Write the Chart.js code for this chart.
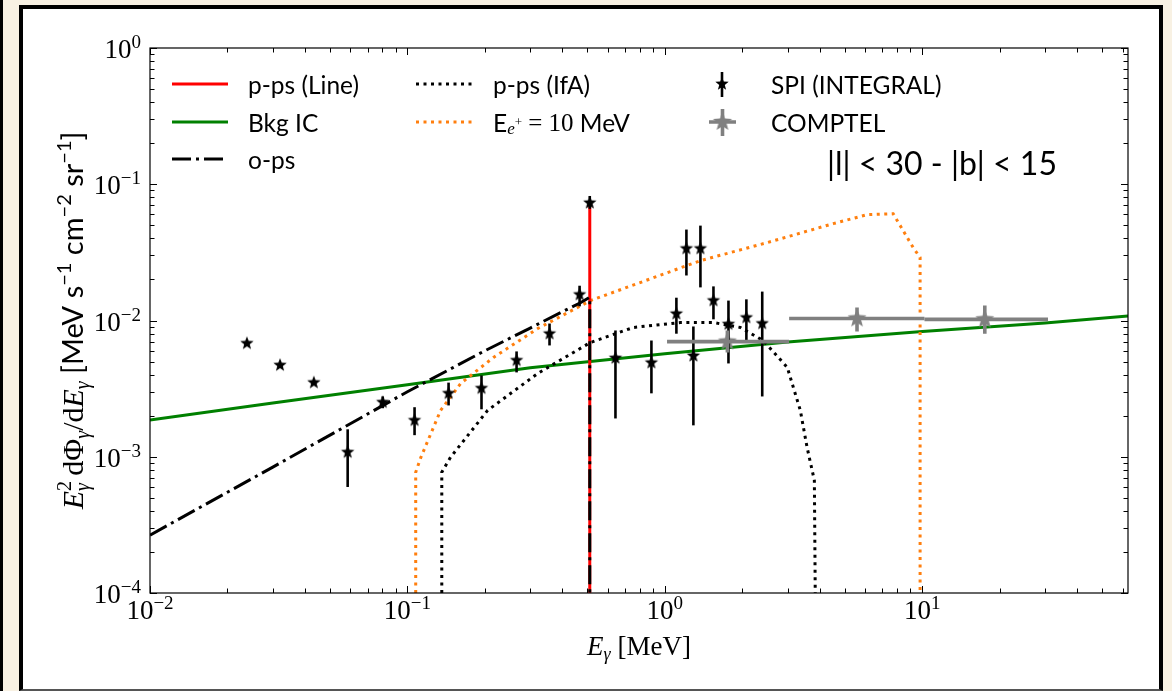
<!DOCTYPE html>
<html>
<head>
<meta charset="utf-8">
<script src="https://cdn.jsdelivr.net/npm/chart.js@4.4.0/dist/chart.umd.min.js"></script>
<style>
  html, body { margin: 0; padding: 0; width: 1172px; height: 691px; overflow: hidden; background: #f8f1e3; position: relative; }
  #strip { position: absolute; left: 0; top: 0; width: 3px; height: 691px; background: #000; }
  #frame { position: absolute; left: 19px; top: 5px; width: 1136px; height: 680px; background: #fff;
           border: 4px solid #000; border-bottom: 2px solid #555; }
  #chart { position: absolute; left: 0; top: 0; }
</style>
</head>
<body>
<div id="strip"></div>
<div id="frame"></div>
<canvas id="chart" width="1172" height="691"></canvas>
<script>
// --- data (E in MeV, flux in MeV s^-1 cm^-2 sr^-1) ---
const xTicks = [0.01, 0.1, 1, 10];
const yTicks = [1e-4, 1e-3, 1e-2, 1e-1, 1];

const bkgE = [0.01, 0.03, 0.1, 0.3, 1, 3, 10, 30, 63];
const bkgF = [1.86e-3, 2.48e-3, 3.38e-3, 4.5e-3, 5.7e-3, 6.95e-3, 8.3e-3, 9.6e-3, 1.08e-2];

const opsE = [0.01, 0.03, 0.1, 0.2, 0.3, 0.4, 0.47, 0.511, 0.511];
const opsF = [2.66e-4, 8.4e-4, 3.0e-3, 6.0e-3, 8.8e-3, 1.16e-2, 1.35e-2, 1.48e-2, 1e-4];

const lineE = [0.511, 0.511];
const lineF = [1e-4, 7.2e-2];

const ifaE = [0.136, 0.136, 0.147, 0.205, 0.321, 0.514, 0.755, 1.15, 1.545, 1.965, 2.41, 2.99, 3.36, 3.57, 3.81, 3.84];
const ifaF = [1e-4, 7.7e-4, 9.9e-4, 2.19e-3, 4.09e-3, 6.9e-3, 8.89e-3, 9.66e-3, 9.66e-3, 8.89e-3, 7.13e-3, 4.53e-3, 2.19e-3, 1.17e-3, 6.7e-4, 1e-4];

const e10E = [0.1077, 0.1077, 0.1128, 0.1346, 0.161, 0.216, 0.321, 0.514, 1.375, 2.5, 4.51, 6.11, 7.71, 9.22, 9.81, 9.81];
const e10F = [1e-4, 7.7e-4, 9.9e-4, 2.19e-3, 3.45e-3, 5.36e-3, 8.73e-3, 1.40e-2, 2.75e-2, 3.73e-2, 5.14e-2, 5.98e-2, 6.08e-2, 3.43e-2, 2.9e-2, 1e-4];

const spiE  = [0.0238, 0.0320, 0.0433, 0.0586, 0.0802, 0.1066, 0.1445, 0.194, 0.2655, 0.3565, 0.4665, 0.511,
               0.643, 0.887, 1.109, 1.213, 1.291, 1.375, 1.545, 1.767, 2.074, 2.39];
const spiF  = [6.8e-3, 4.7e-3, 3.5e-3, 1.08e-3, 2.51e-3, 1.85e-3, 2.92e-3, 3.18e-3, 5.1e-3, 8.0e-3, 1.55e-2, 7.3e-2,
               5.3e-3, 4.9e-3, 1.12e-2, 3.37e-2, 5.5e-3, 3.37e-2, 1.4e-2, 9.4e-3, 1.05e-2, 9.5e-3];
const spiLo = [null, null, null, 6.0e-4, 2.27e-3, 1.44e-3, 2.38e-3, 2.23e-3, 4.16e-3, 6.56e-3, 1.27e-2, 6.6e-2,
               1.91e-3, 2.92e-3, 8.0e-3, 2.14e-2, 1.70e-3, 1.75e-2, 1.02e-2, 4.84e-3, 7.13e-3, 2.77e-3];
const spiHi = [null, null, null, 1.59e-3, 2.77e-3, 2.31e-3, 3.5e-3, 3.95e-3, 5.93e-3, 9.5e-3, 1.8e-2, 8.2e-2,
               8.45e-3, 7.13e-3, 1.47e-2, 4.65e-2, 9.04e-3, 4.97e-2, 1.78e-2, 1.40e-2, 1.43e-2, 1.63e-2];

const comptelE   = [1.75, 5.58, 17.5];
const comptelF   = [7.0e-3, 1.035e-2, 1.02e-2];
const comptelElo = [1.02, 3.04, 10.2];
const comptelEhi = [3.04, 10.2, 30.8];
const comptelFlo = [5.83e-3, 8.3e-3, 8.0e-3];
const comptelFhi = [8.45e-3, 1.245e-2, 1.29e-2];

const SERIF = '"Liberation Serif", "DejaVu Serif", serif';
const SANS = 'Lato, "DejaVu Sans", sans-serif';
const DASHDOT = [19, 5, 3, 5];
const DOTS = [3, 4.5];

const pts = (xs, ys) => xs.map((x, i) => ({ x: x, y: ys[i] }));

function makeStar(color, r) {
  const c = document.createElement('canvas');
  const s = Math.ceil(r * 2 + 2);
  c.width = s; c.height = s;
  const g = c.getContext('2d');
  g.fillStyle = color;
  g.beginPath();
  for (let i = 0; i < 10; i++) {
    const rr = i % 2 ? r * 0.42 : r;
    const a = -Math.PI / 2 + i * Math.PI / 5;
    g.lineTo(s / 2 + rr * Math.cos(a), s / 2 + rr * Math.sin(a));
  }
  g.closePath();
  g.fill();
  return c;
}
const starBlack = makeStar('#000', 7);
const starGray = makeStar('#808080', 10);

// rich text: segments {t, f, dy, adv}
function rich(ctx, segs, x, y, align) {
  let w = 0;
  segs.forEach(s => { ctx.font = s.f; s.w = ctx.measureText(s.t).width; if (s.adv !== false) w += s.w; });
  let cx = align === 'center' ? x - w / 2 : align === 'right' ? x - w : x;
  segs.forEach(s => {
    ctx.font = s.f;
    ctx.fillText(s.t, cx, y + (s.dy || 0));
    if (s.adv !== false) cx += s.w;
  });
}

const decor = {
  id: 'decor',
  afterDatasetsDraw(chart) {
    const { ctx, scales: { x, y } } = chart;
    ctx.save();
    ctx.lineCap = 'butt';
    // SPI error bars
    ctx.strokeStyle = '#000';
    ctx.lineWidth = 2.6;
    spiE.forEach((e, i) => {
      if (spiLo[i] == null) return;
      const px = x.getPixelForValue(e);
      ctx.beginPath();
      ctx.moveTo(px, y.getPixelForValue(spiLo[i]));
      ctx.lineTo(px, y.getPixelForValue(spiHi[i]));
      ctx.stroke();
    });
    // COMPTEL error bars
    ctx.strokeStyle = '#808080';
    ctx.lineWidth = 3.6;
    comptelE.forEach((e, i) => {
      const px = x.getPixelForValue(e), py = y.getPixelForValue(comptelF[i]);
      ctx.beginPath();
      ctx.moveTo(x.getPixelForValue(comptelElo[i]), py);
      ctx.lineTo(x.getPixelForValue(comptelEhi[i]), py);
      ctx.moveTo(px, y.getPixelForValue(comptelFlo[i]));
      ctx.lineTo(px, y.getPixelForValue(comptelFhi[i]));
      ctx.stroke();
    });
    ctx.restore();
  },
  afterDraw(chart) {
    const { ctx, chartArea: a, scales: { x, y } } = chart;
    ctx.save();
    // axes box
    ctx.strokeStyle = '#000';
    ctx.lineWidth = 1.2;
    ctx.strokeRect(a.left, a.top, a.right - a.left, a.bottom - a.top);
    // inward ticks
    ctx.lineWidth = 1;
    ctx.beginPath();
    for (let d = -2; d <= 1; d++) {
      for (let m = 1; m <= 9; m++) {
        const v = m * Math.pow(10, d);
        if (v < x.min || v > x.max) continue;
        const px = Math.round(x.getPixelForValue(v)) + 0.5;
        const len = m === 1 ? 7 : 4.5;
        ctx.moveTo(px, a.bottom); ctx.lineTo(px, a.bottom - len);
        ctx.moveTo(px, a.top); ctx.lineTo(px, a.top + len);
      }
    }
    for (let d = -4; d <= 0; d++) {
      for (let m = 1; m <= 9; m++) {
        const v = m * Math.pow(10, d);
        if (v < y.min || v > y.max) continue;
        const py = Math.round(y.getPixelForValue(v)) + 0.5;
        const len = m === 1 ? 7 : 4.5;
        ctx.moveTo(a.left, py); ctx.lineTo(a.left + len, py);
        ctx.moveTo(a.right, py); ctx.lineTo(a.right - len, py);
      }
    }
    ctx.stroke();

    ctx.fillStyle = '#000';
    ctx.textBaseline = 'alphabetic';
    const big = '27px ' + SERIF, small = '19px ' + SERIF;
    const exp = v => String(Math.round(Math.log10(v))).replace('-', '\u2212');
    // tick labels
    xTicks.forEach(v => {
      rich(ctx, [{ t: '10', f: big }, { t: exp(v), f: small, dy: -10 }], x.getPixelForValue(v), 619, 'center');
    });
    yTicks.forEach(v => {
      rich(ctx, [{ t: '10', f: big }, { t: exp(v), f: small, dy: -10 }], 141, y.getPixelForValue(v) + 10, 'right');
    });

    // x title
    rich(ctx, [
      { t: 'E', f: 'italic 27px ' + SERIF },
      { t: '\u03b3', f: 'italic 18px ' + SERIF, dy: 5 },
      { t: ' [MeV]', f: '27px ' + SERIF }
    ], (a.left + a.right) / 2, 655, 'center');

    // y title
    ctx.save();
    ctx.translate(83, (a.top + a.bottom) / 2);
    ctx.rotate(-Math.PI / 2);
    const sub = 'italic 20px ' + SERIF, sup = '20px ' + SANS;
    rich(ctx, [
      { t: 'E', f: 'italic 30px ' + SERIF },
      { t: '2', f: '20px ' + SERIF, dy: -12, adv: false },
      { t: '\u03b3', f: sub, dy: 6 },
      { t: ' d\u03a6', f: '30px ' + SERIF },
      { t: '\u03b3', f: sub, dy: 6 },
      { t: '/d', f: '30px ' + SERIF },
      { t: 'E', f: 'italic 30px ' + SERIF },
      { t: '\u03b3', f: sub, dy: 6 },
      { t: ' [MeV s', f: '29px ' + SANS },
      { t: '\u22121', f: sup, dy: -12 },
      { t: ' cm', f: '29px ' + SANS },
      { t: '\u22122', f: sup, dy: -12 },
      { t: ' sr', f: '29px ' + SANS },
      { t: '\u22121', f: sup, dy: -12 },
      { t: ']', f: '29px ' + SANS }
    ], 0, 0, 'center');
    ctx.restore();

    // legend
    const lf = '24.5px ' + SANS;
    ctx.textBaseline = 'middle';
    const sample = (x0, yy, color, dash, width) => {
      ctx.save();
      ctx.strokeStyle = color; ctx.lineWidth = width; ctx.setLineDash(dash);
      ctx.beginPath(); ctx.moveTo(x0, yy); ctx.lineTo(x0 + 56, yy); ctx.stroke();
      ctx.restore();
    };
    chart.data.datasets.forEach(ds => {
      const L = ds.leg;
      if (!L) return;
      if (L.kind === 'line') sample(L.x, L.y, ds.borderColor, ds.borderDash || [], ds.borderWidth);
      ctx.font = lf;
      if (ds.label.startsWith('E_')) {
        rich(ctx, [
          { t: 'E', f: lf },
          { t: 'e', f: 'italic 17px ' + SERIF, dy: 6 },
          { t: '+', f: '13px ' + SERIF, dy: -1 },
          { t: ' = 10 ', f: '25px ' + SERIF },
          { t: 'MeV', f: lf }
        ], L.tx, L.y + 2, 'left');
      } else {
        ctx.fillText(ds.label, L.tx, L.y + 2);
      }
    });
    // legend markers for data sets
    ctx.strokeStyle = '#000'; ctx.lineWidth = 2.6;
    ctx.beginPath(); ctx.moveTo(722, 72); ctx.lineTo(722, 97); ctx.stroke();
    ctx.drawImage(starBlack, 722 - starBlack.width / 2, 84 - starBlack.height / 2);
    ctx.strokeStyle = '#808080'; ctx.lineWidth = 3.6;
    ctx.beginPath(); ctx.moveTo(709, 122); ctx.lineTo(736, 122); ctx.moveTo(722.5, 109); ctx.lineTo(722.5, 136); ctx.stroke();
    ctx.drawImage(starGray, 722.5 - starGray.width / 2, 122 - starGray.height / 2);

    // region label
    ctx.font = '32px ' + SANS;
    ctx.textBaseline = 'middle';
    ctx.fillText('|l| < 30 - |b| < 15', 827, 165);
    ctx.restore();
  }
};

const ctx = document.getElementById('chart').getContext('2d');
new Chart(ctx, {
  type: 'scatter',
  data: {
    datasets: [
      { label: 'SPI (INTEGRAL)', data: pts(spiE, spiF), pointStyle: starBlack, pointRadius: 7, showLine: false,
        leg: { kind: 'marker', x: 722, y: 84, tx: 771 } },
      { label: 'COMPTEL', data: pts(comptelE, comptelF), pointStyle: starGray, pointRadius: 10, showLine: false,
        leg: { kind: 'marker', x: 722, y: 122, tx: 771 } },
      { label: 'o-ps', data: pts(opsE, opsF), showLine: true, borderColor: '#000', borderWidth: 3,
        borderDash: DASHDOT, pointRadius: 0, leg: { kind: 'line', x: 172, y: 159, tx: 248 } },
      { label: 'p-ps (Line)', data: pts(lineE, lineF), showLine: true, borderColor: '#ff0000', borderWidth: 3,
        pointRadius: 0, leg: { kind: 'line', x: 172, y: 84, tx: 248 } },
      { label: 'p-ps (IfA)', data: pts(ifaE, ifaF), showLine: true, borderColor: '#000', borderWidth: 3,
        borderDash: DOTS, pointRadius: 0, leg: { kind: 'line', x: 416, y: 84, tx: 493 } },
      { label: 'E_e+ = 10 MeV', data: pts(e10E, e10F), showLine: true, borderColor: '#ff7f0e', borderWidth: 3,
        borderDash: DOTS, pointRadius: 0, leg: { kind: 'line', x: 416, y: 122, tx: 493 } },
      { label: 'Bkg IC', data: pts(bkgE, bkgF), showLine: true, borderColor: '#008000', borderWidth: 3,
        pointRadius: 0, leg: { kind: 'line', x: 172, y: 122, tx: 248 } }
    ]
  },
  options: {
    responsive: false,
    animation: false,
    devicePixelRatio: 1,
    layout: { padding: { left: 150, top: 48, right: 44, bottom: 98 } },
    plugins: { legend: { display: false }, tooltip: { enabled: false } },
    scales: {
      x: { type: 'logarithmic', min: 0.01, max: 63, display: false },
      y: { type: 'logarithmic', min: 1e-4, max: 1, display: false }
    }
  },
  plugins: [decor]
});
</script>
</body>
</html>
